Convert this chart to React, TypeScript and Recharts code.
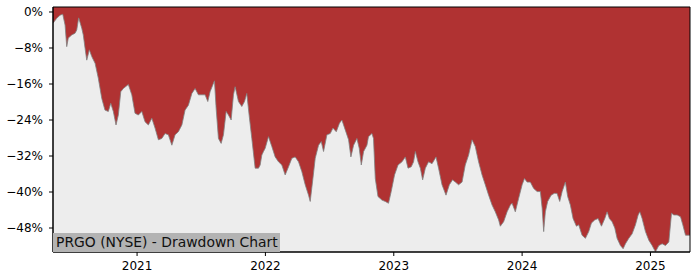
import { Area, AreaChart, ReferenceArea, XAxis, YAxis } from "recharts";

// decimal years
const years = [
  2020.345, 2020.374, 2020.4, 2020.421, 2020.439, 2020.452, 2020.464, 2020.491, 2020.517, 2020.53,
  2020.545, 2020.569, 2020.581, 2020.595, 2020.608, 2020.628, 2020.647, 2020.673, 2020.698, 2020.725,
  2020.75, 2020.776, 2020.795, 2020.815, 2020.836, 2020.854, 2020.873, 2020.893, 2020.932, 2020.959,
  2020.984, 2021.01, 2021.037, 2021.062, 2021.088, 2021.115, 2021.14, 2021.166, 2021.193, 2021.218,
  2021.244, 2021.271, 2021.296, 2021.322, 2021.349, 2021.374, 2021.4, 2021.427, 2021.452, 2021.478,
  2021.504, 2021.53, 2021.551, 2021.569, 2021.603, 2021.616, 2021.634, 2021.655, 2021.673, 2021.694,
  2021.712, 2021.733, 2021.751, 2021.764, 2021.79, 2021.816, 2021.837, 2021.855, 2021.873, 2021.894,
  2021.92, 2021.946, 2021.959, 2021.972, 2021.985, 2021.998, 2022.024, 2022.05, 2022.076, 2022.102,
  2022.128, 2022.154, 2022.18, 2022.206, 2022.232, 2022.258, 2022.284, 2022.31, 2022.336, 2022.349,
  2022.37, 2022.388, 2022.414, 2022.435, 2022.453, 2022.479, 2022.505, 2022.526, 2022.552, 2022.577,
  2022.596, 2022.622, 2022.648, 2022.666, 2022.687, 2022.713, 2022.731, 2022.747, 2022.765, 2022.791,
  2022.803, 2022.83, 2022.842, 2022.856, 2022.877, 2022.908, 2022.934, 2022.959, 2022.98, 2023.006,
  2023.033, 2023.064, 2023.09, 2023.111, 2023.136, 2023.154, 2023.168, 2023.189, 2023.207, 2023.225,
  2023.246, 2023.271, 2023.298, 2023.329, 2023.349, 2023.376, 2023.407, 2023.433, 2023.458, 2023.48,
  2023.505, 2023.532, 2023.557, 2023.583, 2023.61, 2023.635, 2023.661, 2023.688, 2023.713, 2023.739,
  2023.766, 2023.791, 2023.817, 2023.83, 2023.856, 2023.883, 2023.908, 2023.922, 2023.947, 2023.973,
  2024.0, 2024.018, 2024.039, 2024.064, 2024.09, 2024.117, 2024.142, 2024.156, 2024.168, 2024.181,
  2024.199, 2024.226, 2024.251, 2024.272, 2024.293, 2024.312, 2024.337, 2024.355, 2024.376, 2024.397,
  2024.423, 2024.441, 2024.467, 2024.493, 2024.519, 2024.54, 2024.566, 2024.592, 2024.618, 2024.644,
  2024.662, 2024.68, 2024.701, 2024.722, 2024.74, 2024.766, 2024.787, 2024.805, 2024.831, 2024.857,
  2024.883, 2024.904, 2024.917, 2024.935, 2024.961, 2024.987, 2025.013, 2025.039, 2025.065, 2025.091,
  2025.117, 2025.143, 2025.164, 2025.182, 2025.208, 2025.234, 2025.252, 2025.273, 2025.308,
];

// drawdown from running peak, in percent
const drawdown = [
  -2.5, -1.4, -0.7, -0.5, -2.9, -7.7, -5.8, -5.1, -4.7, -4.0,
  -1.3, -3.6, -5.1, -8.1, -10.7, -8.4, -9.9, -11.4, -14.7, -19.2,
  -21.8, -22.1, -20.3, -22.1, -25.1, -22.9, -17.7, -17.0, -16.1, -18.4,
  -22.5, -22.9, -22.1, -24.4, -25.1, -23.6, -25.8, -28.4, -28.1, -27.0,
  -27.3, -29.6, -27.3, -26.6, -25.1, -21.8, -20.7, -18.1, -17.0, -18.4,
  -18.4, -18.4, -19.9, -17.7, -15.3, -21.4, -28.1, -29.2, -27.3, -22.1,
  -22.9, -24.0, -18.4, -16.6, -19.9, -21.0, -19.9, -18.1, -22.9, -28.1,
  -34.7, -34.7, -34.0, -31.8, -31.0, -30.3, -27.7, -29.9, -32.2, -33.3,
  -34.0, -36.2, -34.4, -32.5, -32.2, -33.3, -35.5, -38.4, -40.7, -42.1,
  -37.0, -32.5, -29.6, -28.8, -31.0, -27.3, -27.0, -25.8, -26.6, -24.7,
  -24.0, -26.2, -28.4, -32.2, -29.6, -28.1, -30.3, -34.0, -31.0, -29.6,
  -27.7, -27.0, -28.1, -37.0, -41.0, -41.8, -42.1, -42.5, -39.9, -36.2,
  -34.0, -33.3, -32.2, -34.7, -34.4, -33.3, -31.0, -33.3, -34.7, -37.3,
  -34.7, -33.3, -33.7, -32.2, -34.7, -38.4, -40.7, -38.4, -37.3, -37.8,
  -38.4, -37.8, -34.0, -31.8, -28.4, -29.9, -33.3, -36.2, -38.4, -40.7,
  -42.9, -44.4, -46.2, -47.6, -46.6, -44.4, -42.9, -42.5, -44.4, -41.4,
  -38.4, -37.0, -37.8, -37.8, -39.2, -39.9, -39.9, -43.6, -48.8, -44.4,
  -42.1, -40.7, -40.3, -40.3, -42.1, -39.9, -37.8, -41.0, -42.9, -45.9,
  -47.6, -47.3, -49.6, -50.3, -48.8, -46.9, -46.2, -45.9, -47.6, -45.9,
  -44.4, -45.9, -46.6, -48.0, -50.3, -51.9, -52.6, -51.5, -50.3, -49.3,
  -47.3, -45.1, -44.4, -45.9, -48.8, -50.7, -51.9, -53.3, -51.9, -51.5,
  -51.9, -51.1, -44.7, -45.1, -45.1, -45.5, -47.3, -49.6, -49.6,
];

const yearTicks = [2021, 2022, 2023, 2024, 2025];
const pctTicks = [0, -8, -16, -24, -32, -40, -48];
const title = "PRGO (NYSE) - Drawdown Chart";

const X_DOMAIN: [number, number] = [2020.345, 2025.308];
const Y_TOP = 1.11;
const Y_DOMAIN: [number, number] = [-53.33, Y_TOP];

const data = years.map((t, i) => ({ t, dd: drawdown[i] }));

const font = "'DejaVu Sans', sans-serif";

const fmtPct = (v: number) => (v === 0 ? "0%" : `\u2212${Math.abs(v)}%`);

export default function App() {
  return (
    <div style={{ position: "absolute", left: 0, top: 0, width: 700, height: 280, background: "#fff" }}>
      <AreaChart
        width={700}
        height={280}
        data={data}
        margin={{ top: 7, right: 10, bottom: 0, left: 0 }}
      >
        <ReferenceArea
          x1={X_DOMAIN[0]}
          x2={X_DOMAIN[1]}
          y1={Y_DOMAIN[0]}
          y2={Y_DOMAIN[1]}
          fill="#ededed"
          fillOpacity={1}
          stroke="none"
        />
        <XAxis
          dataKey="t"
          type="number"
          domain={X_DOMAIN}
          allowDataOverflow
          ticks={yearTicks}
          tickFormatter={(v) => String(v)}
          height={28}
          tickSize={4}
          tickMargin={5}
          stroke="#000"
          tick={{ fill: "#000", fontSize: 12, fontFamily: font }}
        />
        <YAxis
          type="number"
          domain={Y_DOMAIN}
          allowDataOverflow
          ticks={pctTicks}
          tickFormatter={fmtPct}
          width={53}
          tickSize={4}
          tickMargin={6}
          stroke="#000"
          tick={{ fill: "#000", fontSize: 12, fontFamily: font }}
        />
        <Area
          type="linear"
          dataKey="dd"
          baseValue={Y_TOP}
          fill="#b03232"
          fillOpacity={1}
          stroke="#808080"
          strokeWidth={0.8}
          dot={false}
          activeDot={false}
          isAnimationActive={false}
        />
        <ReferenceArea
          x1={X_DOMAIN[0]}
          x2={X_DOMAIN[1]}
          y1={Y_DOMAIN[0]}
          y2={Y_DOMAIN[1]}
          fill="none"
          stroke="#000"
          strokeWidth={1}
        />
      </AreaChart>
      <div
        style={{
          position: "absolute",
          left: 53,
          top: 233,
          width: 227,
          height: 19,
          background: "#b3b3b3",
          color: "#111",
          fontFamily: font,
          fontSize: 13.9,
          lineHeight: "19px",
          paddingLeft: 3,
          boxSizing: "border-box",
          whiteSpace: "nowrap",
        }}
      >
        {title}
      </div>
    </div>
  );
}
